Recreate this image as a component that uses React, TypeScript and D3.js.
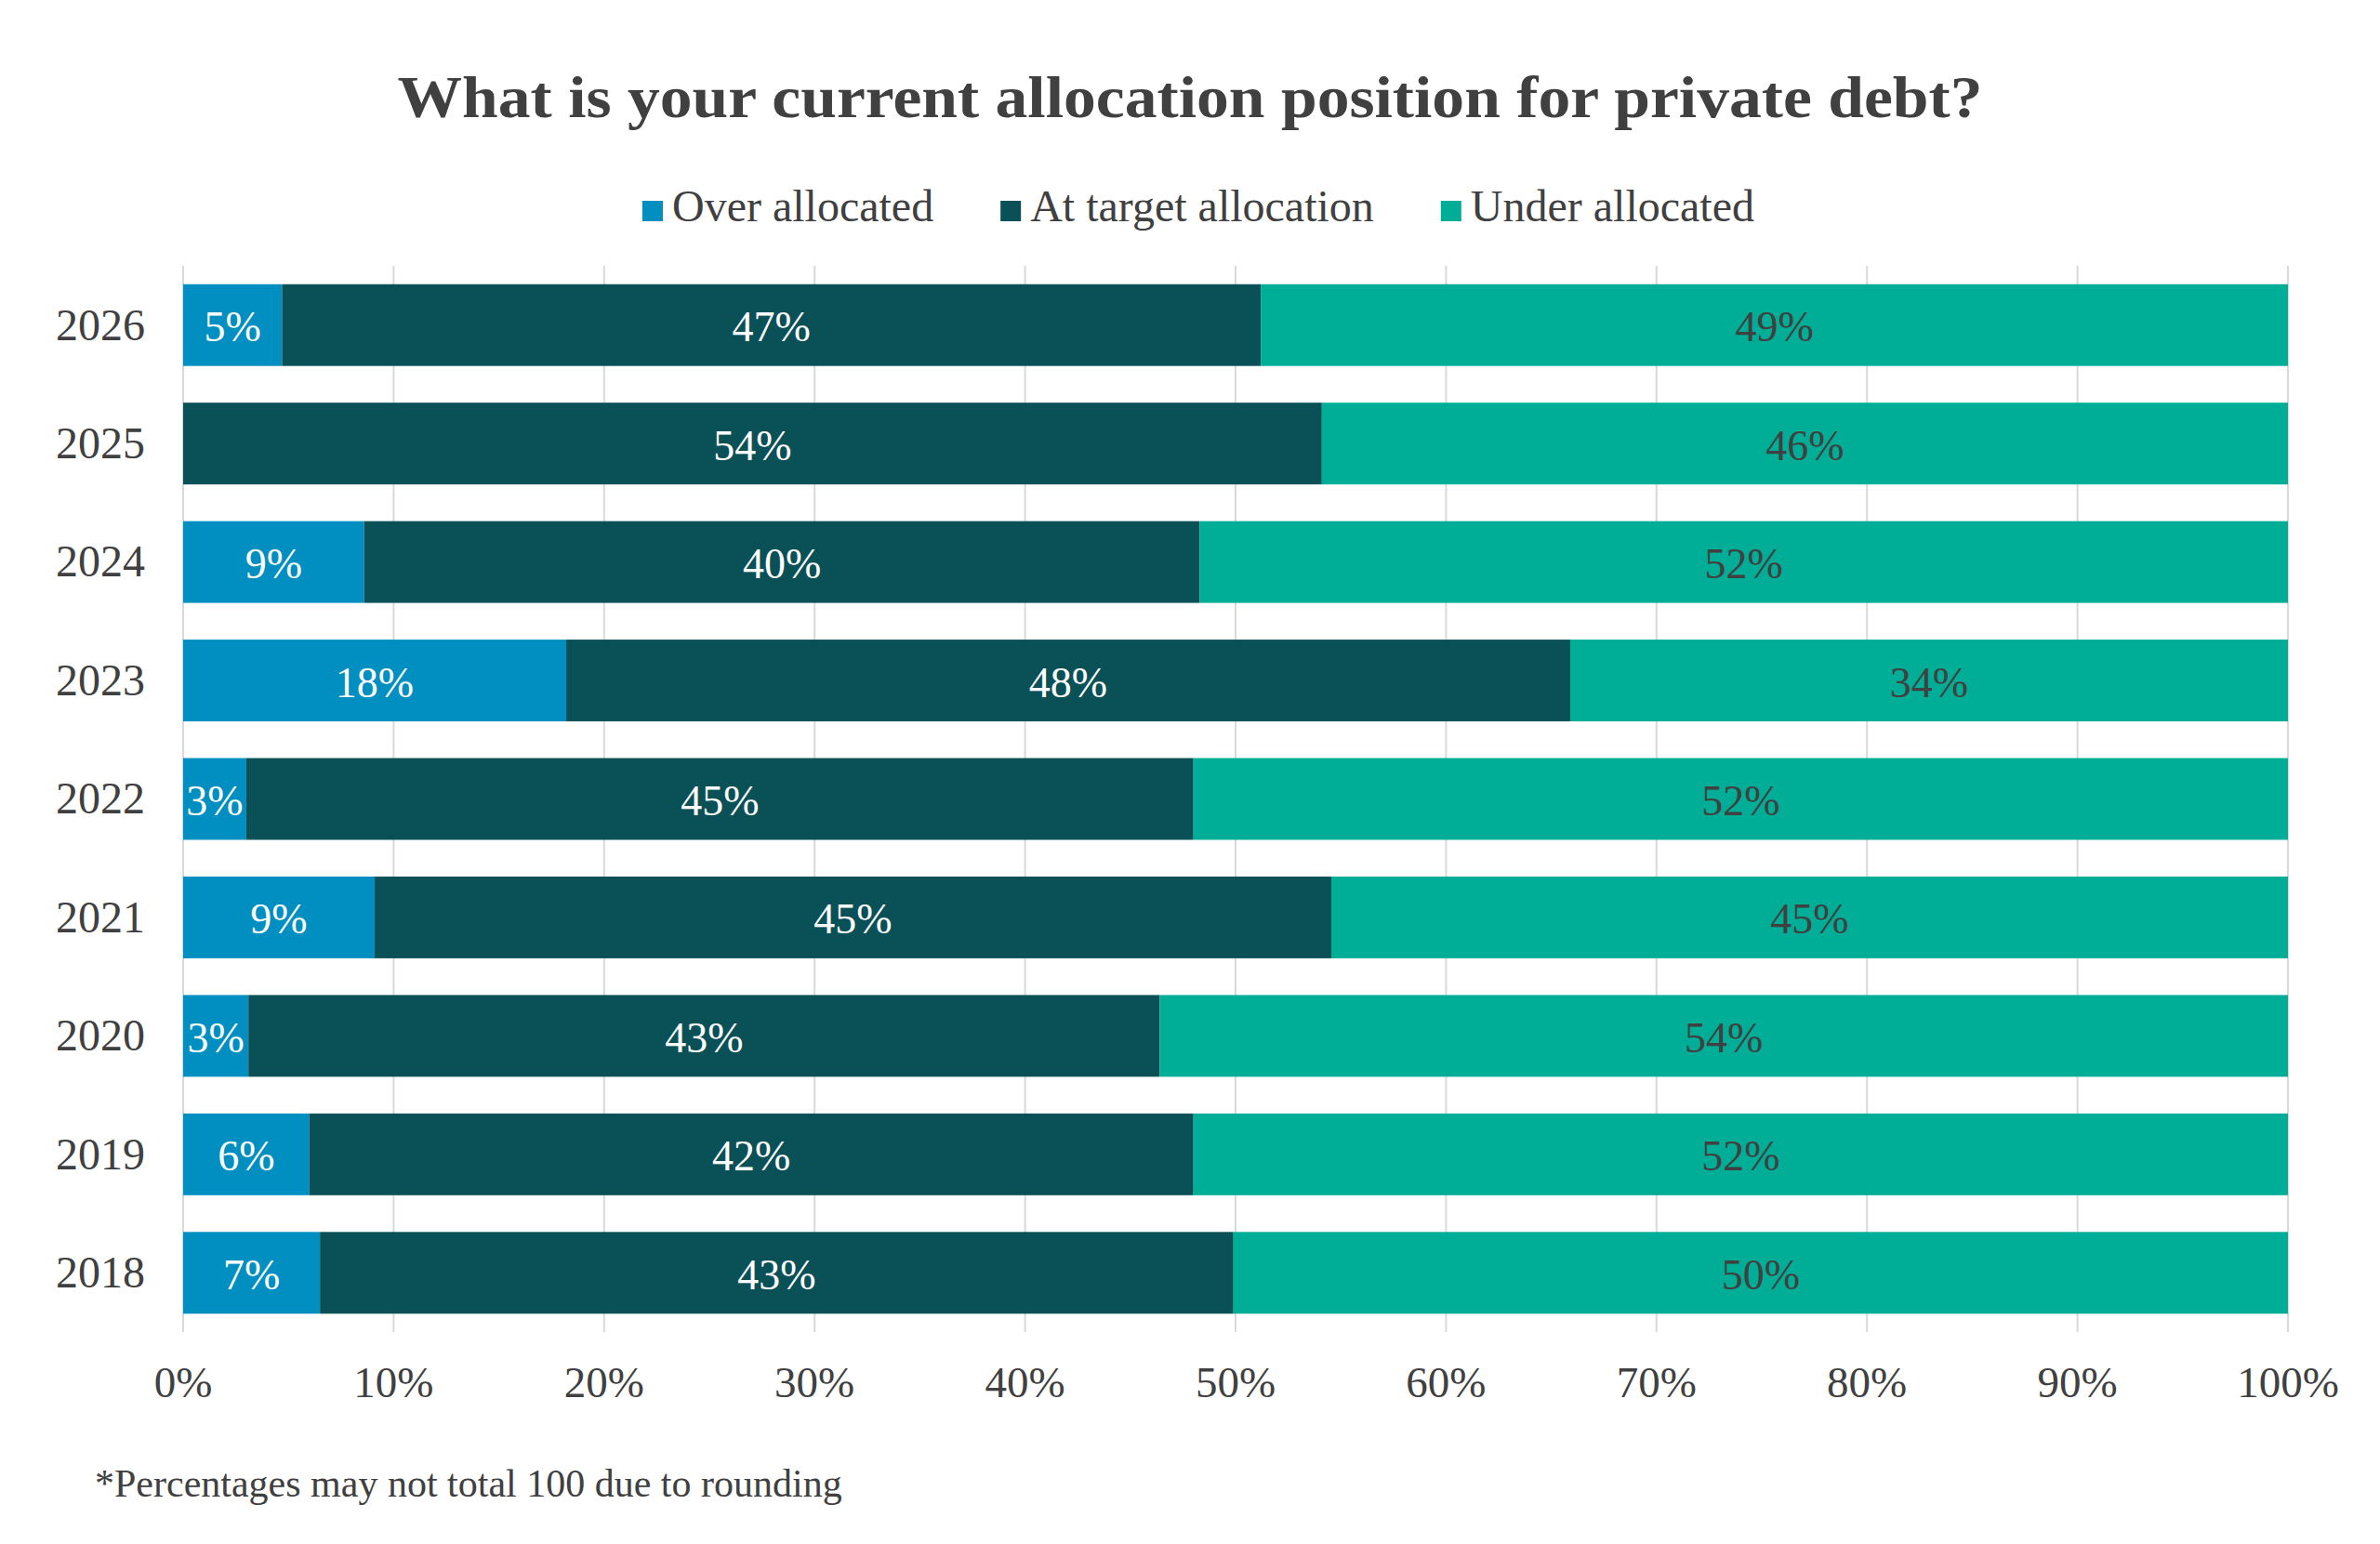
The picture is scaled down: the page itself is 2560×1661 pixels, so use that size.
import React, { useEffect, useRef } from "react";
import * as d3 from "d3";

const years = ["2026", "2025", "2024", "2023", "2022", "2021", "2020", "2019", "2018"];
const overAllocated = [4.7, 0, 8.6, 18.2, 3.0, 9.1, 3.1, 6.0, 6.5];
const atTarget = [46.5, 54.1, 39.7, 47.7, 45.0, 45.45, 43.3, 42.0, 43.4];
const underAllocated = [48.8, 45.9, 51.7, 34.1, 52.0, 45.45, 53.6, 52.0, 50.1];

const seriesKeys = ["over", "at", "under"];
const seriesNames = ["Over allocated", "At target allocation", "Under allocated"];
const seriesColors = ["#008fc0", "#0a5057", "#00ad96"];
const labelColors = ["#ffffff", "#ffffff", "#404040"];
const xTicks = [0, 10, 20, 30, 40, 50, 60, 70, 80, 90, 100];

const title = "What is your current allocation position for private debt?";
const footnote = "*Percentages may not total 100 due to rounding";

const W = 2560;
const H = 1661;
const FONT = "'Liberation Serif', 'DejaVu Serif', serif";
const TEXT = "#404040";

const App = () => {
  const ref = useRef<SVGSVGElement>(null);

  useEffect(() => {
    const svg = d3.select(ref.current);
    svg.selectAll("*").remove();

    interface Row {
      year: string;
      over: number;
      at: number;
      under: number;
    }
    const rows: Row[] = years.map((year, i) => ({
      year,
      over: overAllocated[i],
      at: atTarget[i],
      under: underAllocated[i],
    }));

    const x = d3.scaleLinear().domain([0, 100]).range([197, 2461]);
    const y = d3
      .scaleBand()
      .domain(years)
      .range([286, 1433])
      .paddingInner(0.31)
      .paddingOuter(0.155);

    // title (Georgia is wider than the installed serif, so stretch it)
    svg
      .append("text")
      .attr("x", W / 2)
      .attr("y", 126)
      .attr("text-anchor", "middle")
      .attr("font-family", FONT)
      .attr("font-weight", "bold")
      .attr("font-size", 63)
      .attr("fill", TEXT)
      .attr("textLength", 1705)
      .attr("lengthAdjust", "spacingAndGlyphs")
      .text(title);

    // gridlines
    svg
      .append("g")
      .selectAll("line")
      .data(xTicks)
      .enter()
      .append("line")
      .attr("x1", (d) => x(d))
      .attr("x2", (d) => x(d))
      .attr("y1", 286)
      .attr("y2", 1433)
      .attr("stroke", "#d9d9d9")
      .attr("stroke-width", 2);

    // bars
    const stack = d3.stack<Row>().keys(seriesKeys);
    const layers = stack(rows);

    layers.forEach((layer, li) => {
      const g = svg.append("g");
      g.selectAll("rect")
        .data(layer.filter((d) => d[1] - d[0] > 0))
        .enter()
        .append("rect")
        .attr("x", (d) => x(d[0]))
        .attr("width", (d) => x(d[1]) - x(d[0]))
        .attr("y", (d) => y(d.data.year) as number)
        .attr("height", y.bandwidth())
        .attr("fill", seriesColors[li]);
    });

    layers.forEach((layer, li) => {
      svg
        .append("g")
        .attr("font-family", FONT)
        .attr("font-size", 46)
        .attr("text-anchor", "middle")
        .attr("fill", labelColors[li])
        .selectAll("text")
        .data(layer.filter((d) => d[1] - d[0] > 0))
        .enter()
        .append("text")
        .attr("x", (d) => (x(d[0]) + x(d[1])) / 2)
        .attr("y", (d) => (y(d.data.year) as number) + y.bandwidth() / 2)
        .attr("dy", "0.38em")
        .text((d) => `${Math.round(d[1] - d[0])}%`);
    });

    // year labels
    svg
      .append("g")
      .attr("font-family", FONT)
      .attr("font-size", 48)
      .attr("text-anchor", "end")
      .attr("fill", TEXT)
      .selectAll("text")
      .data(years)
      .enter()
      .append("text")
      .attr("x", 156)
      .attr("y", (d) => (y(d) as number) + y.bandwidth() / 2)
      .attr("dy", "0.33em")
      .text((d) => d);

    // x tick labels
    svg
      .append("g")
      .attr("font-family", FONT)
      .attr("font-size", 47)
      .attr("text-anchor", "middle")
      .attr("fill", TEXT)
      .selectAll("text")
      .data(xTicks)
      .enter()
      .append("text")
      .attr("x", (d) => x(d))
      .attr("y", 1503)
      .text((d) => `${d}%`);

    // legend
    const legend = svg
      .append("g")
      .attr("font-family", FONT)
      .attr("font-size", 48)
      .attr("fill", TEXT);
    const items = legend
      .selectAll("g")
      .data(seriesNames)
      .enter()
      .append("g");
    items
      .append("rect")
      .attr("width", 22)
      .attr("height", 22)
      .attr("y", 216)
      .attr("fill", (_, i) => seriesColors[i]);
    items
      .append("text")
      .attr("x", 32)
      .attr("y", 238)
      .text((d) => d);
    let offset = 0;
    const widths: number[] = [];
    items.each(function () {
      const t = d3.select(this).select("text").node() as SVGTextElement;
      widths.push(32 + t.getComputedTextLength());
    });
    const total = d3.sum(widths) + 72 * (widths.length - 1);
    const start = 1289 - total / 2;
    items.attr("transform", (_, i) => {
      const tx = start + offset;
      offset += widths[i] + 72;
      return `translate(${tx},0)`;
    });

    // footnote
    svg
      .append("text")
      .attr("x", 102)
      .attr("y", 1610)
      .attr("font-family", FONT)
      .attr("font-size", 42)
      .attr("fill", TEXT)
      .text(footnote);
  }, []);

  return (
    <svg
      ref={ref}
      width={W}
      height={H}
      style={{ position: "absolute", left: 0, top: 0, background: "#ffffff" }}
    />
  );
};

export default App;
